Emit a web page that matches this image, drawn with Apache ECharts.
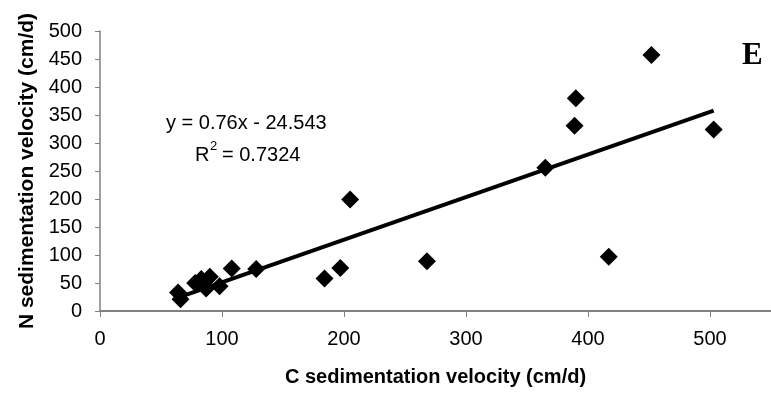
<!DOCTYPE html>
<html>
<head>
<meta charset="utf-8">
<script src="https://cdn.jsdelivr.net/npm/echarts@6/dist/echarts.min.js"></script>
<style>
  html, body { margin: 0; padding: 0; background: #fff; }
  #chart { width: 771px; height: 396px; }
</style>
</head>
<body>
<div id="chart"></div>
<script>
// Scatter data
const cVelocity = [64, 66, 78, 83, 87, 90, 98, 108, 128, 184, 197, 205, 268, 365, 389, 390, 417, 452, 503];
const nVelocity = [33, 21, 50, 57, 40, 61, 44, 76, 75, 58, 77, 199, 89, 256, 331, 380, 97, 457, 324];

// Linear trend line end points (y = 0.76x - 24.543)
const trendX = [64, 503];
const trendY = [24, 358];

const xTicks = [0, 100, 200, 300, 400, 500];

const FONT = "'Liberation Sans', Arial, sans-serif";
const AXIS_GRAY = '#808080';

const chart = echarts.init(document.getElementById('chart'), null, { renderer: 'canvas' });

const option = {
  animation: false,
  backgroundColor: '#fff',
  grid: { left: 100, right: 0, top: 31, bottom: 85 },
  xAxis: {
    type: 'value',
    min: 0,
    max: 550,
    interval: 100,
    name: 'C sedimentation velocity (cm/d)',
    nameLocation: 'middle',
    nameGap: 56,
    nameTextStyle: { fontFamily: FONT, fontSize: 20, fontWeight: 'bold', color: '#000' },
    axisLine: { lineStyle: { color: AXIS_GRAY, width: 2 } },
    axisTick: { show: true, length: 6, customValues: xTicks, lineStyle: { color: AXIS_GRAY, width: 1 } },
    axisLabel: { customValues: xTicks, margin: 18, fontFamily: FONT, fontSize: 20, color: '#000' },
    splitLine: { show: false }
  },
  yAxis: {
    type: 'value',
    min: 0,
    max: 500,
    interval: 50,
    name: 'N sedimentation velocity (cm/d)',
    nameLocation: 'middle',
    nameGap: 56,
    nameTextStyle: { fontFamily: FONT, fontSize: 21, fontWeight: 'bold', color: '#000' },
    axisLine: { show: true, lineStyle: { color: AXIS_GRAY, width: 1.5 } },
    axisTick: { show: true, length: 5, lineStyle: { color: AXIS_GRAY, width: 1 } },
    axisLabel: { margin: 18, fontFamily: FONT, fontSize: 20, color: '#000' },
    splitLine: { show: false }
  },
  series: [
    {
      name: 'Trend',
      type: 'line',
      data: trendX.map((x, i) => [x, trendY[i]]),
      symbol: 'none',
      lineStyle: { color: '#000', width: 4 },
      z: 2
    },
    {
      name: 'Samples',
      type: 'scatter',
      data: cVelocity.map((x, i) => [x, nVelocity[i]]),
      symbol: 'diamond',
      symbolSize: 18,
      itemStyle: { color: '#000', opacity: 1 },
      z: 3
    }
  ],
  graphic: [
    {
      type: 'text', left: 166, top: 113,
      style: { text: 'y = 0.76x - 24.543', font: "20px 'Liberation Sans', Arial", fill: '#000' }
    },
    {
      type: 'text', left: 195, top: 145,
      style: { text: 'R', font: "20px 'Liberation Sans', Arial", fill: '#000' }
    },
    {
      type: 'text', left: 210, top: 140,
      style: { text: '2', font: "13px 'Liberation Sans', Arial", fill: '#000' }
    },
    {
      type: 'text', left: 222, top: 145,
      style: { text: '= 0.7324', font: "20px 'Liberation Sans', Arial", fill: '#000' }
    },
    {
      type: 'text', left: 742, top: 40,
      style: { text: 'E', font: "bold 31px 'Liberation Serif', 'Times New Roman', serif", fill: '#000' }
    }
  ]
};

chart.setOption(option);
</script>
</body>
</html>
